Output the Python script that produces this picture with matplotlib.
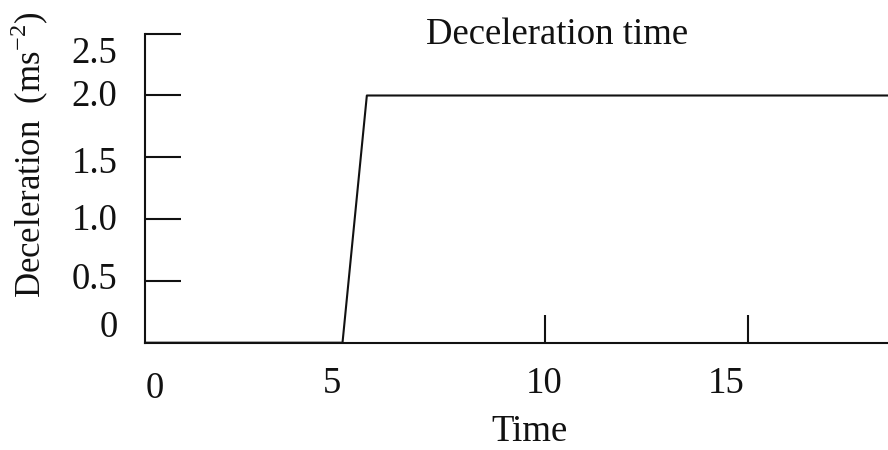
import matplotlib.pyplot as plt

plt.rcParams['font.family'] = ['Liberation Serif', 'DejaVu Serif']
plt.rcParams['mathtext.fontset'] = 'custom'
plt.rcParams['mathtext.rm'] = 'Liberation Serif'

# deceleration profile
time = [0.0, 5.0, 5.6, 18.5]
decel = [0.0, 0.0, 2.0, 2.0]

y_ticks = [0.5, 1.0, 1.5, 2.0, 2.5]
y_labels = ['0', '0.5', '1.0', '1.5', '2.0', '2.5']
y_label_pos = [0.12, 0.51, 0.99, 1.45, 1.99, 2.34]

x_ticks = [10, 15]
x_labels = ['0', '5', '10', '15']
x_label_pos = [0.38, 4.74, 9.98, 14.46]

fig = plt.figure(figsize=(8.88, 4.5), dpi=100)
ax = fig.add_axes([145 / 888, (450 - 342.7) / 450, 1 - 145 / 888, 309 / 450])

ax.plot(time, decel, color='#111111', lw=1.5)

ax.set_xlim(0.13, 18.45)
ax.set_ylim(0, 2.5)
for s in ['top', 'right']:
    ax.spines[s].set_visible(False)
for s in ['left', 'bottom']:
    ax.spines[s].set_linewidth(1.5)
    ax.spines[s].set_color('#111111')

ax.set_yticks(y_ticks)
ax.set_xticks(x_ticks)
ax.tick_params(axis='y', direction='in', length=26, width=1.5, color='#111111', labelleft=False)
ax.tick_params(axis='x', direction='in', length=20, width=1.5, color='#111111', labelbottom=False)

fs = 26.5
for lab, yv in zip(y_labels, y_label_pos):
    ax.text(-0.55, yv, lab, ha='right', va='center', fontsize=fs, color='#111111')
for lab, xv in zip(x_labels, x_label_pos):
    ax.text(xv, -0.33 if lab in ('5', '10', '15') else -0.37, lab,
            ha='center', va='center', fontsize=fs, color='#111111')

ax.text(9.6, -0.72, 'Time', ha='center', va='center', fontsize=fs, color='#111111')
ax.text(10.3, 2.49, 'Deceleration time', ha='center', va='center', fontsize=fs, color='#111111')
fig.text(30 / 888, 1 - 155 / 450, 'Deceleration  (ms$^{-2}$)', rotation=90,
         ha='center', va='center', fontsize=25, color='#111111')

fig.savefig('out.png', dpi=100)
